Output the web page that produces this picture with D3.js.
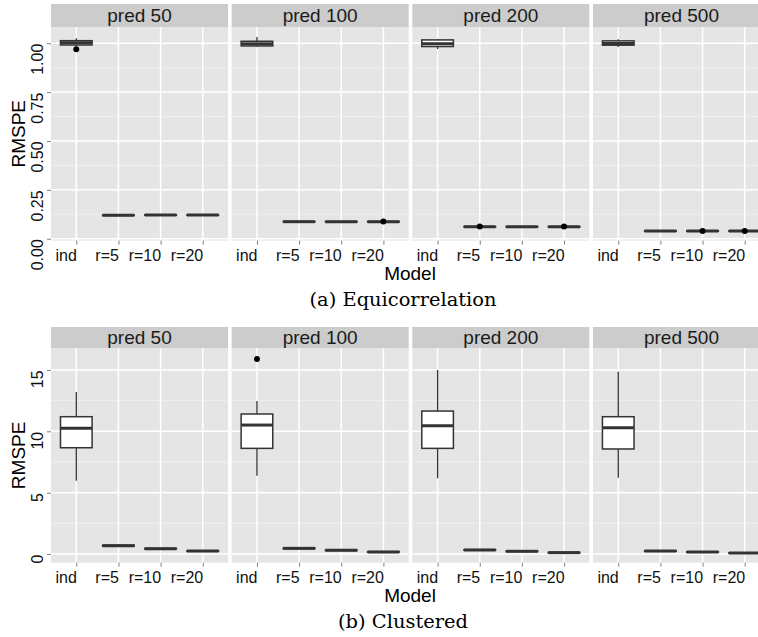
<!DOCTYPE html>
<html>
<head>
<meta charset="utf-8">
<script src="https://cdn.jsdelivr.net/npm/d3@7"></script>
<style>
  body { margin: 0; background: #fff; }
  text { font-family: "Liberation Sans", Arial, sans-serif; }
  .caption { font-family: "DejaVu Serif", "Liberation Serif", serif; }
</style>
</head>
<body>
<div id="chart"></div>
<script>
// categories
var models = ["ind", "r=5", "r=10", "r=20"];
var panels = ["pred 50", "pred 100", "pred 200", "pred 500"];

// Equicorrelation: [lower whisker, q1, median, q3, upper whisker] per panel / model
var equiStats = [
   [[0.985, 0.991, 1.003, 1.013, 1.026], [0.117, 0.119, 0.120, 0.121, 0.123], [0.118, 0.120, 0.121, 0.122, 0.124], [0.118, 0.120, 0.121, 0.122, 0.124]],
   [[0.982, 0.986, 0.997, 1.010, 1.032], [0.085, 0.086, 0.087, 0.088, 0.089], [0.085, 0.086, 0.087, 0.088, 0.089], [0.085, 0.086, 0.087, 0.088, 0.089]],
   [[0.970, 0.983, 0.997, 1.017, 1.022], [0.059, 0.060, 0.061, 0.062, 0.063], [0.059, 0.060, 0.061, 0.062, 0.063], [0.059, 0.060, 0.061, 0.062, 0.063]],
   [[0.981, 0.990, 0.999, 1.012, 1.020], [0.037, 0.038, 0.039, 0.040, 0.041], [0.037, 0.038, 0.039, 0.040, 0.041], [0.037, 0.038, 0.039, 0.040, 0.041]]
];
var equiOutliers = [
   [[0.969], [], [], []],
   [[], [], [], [0.088]],
   [[], [0.062], [], [0.062]],
   [[], [], [0.039], [0.039]]
];

// Clustered
var clusStats = [
   [[5.97, 8.66, 10.24, 11.19, 13.20], [0.60, 0.64, 0.68, 0.72, 0.76], [0.38, 0.41, 0.43, 0.46, 0.49], [0.20, 0.22, 0.24, 0.26, 0.28]],
   [[6.38, 8.61, 10.51, 11.41, 12.47], [0.40, 0.43, 0.46, 0.49, 0.52], [0.25, 0.28, 0.30, 0.32, 0.35], [0.12, 0.15, 0.17, 0.19, 0.22]],
   [[6.17, 8.61, 10.46, 11.65, 15.00], [0.28, 0.31, 0.33, 0.35, 0.38], [0.17, 0.20, 0.22, 0.24, 0.27], [0.06, 0.09, 0.11, 0.13, 0.16]],
   [[6.22, 8.56, 10.29, 11.19, 14.86], [0.19, 0.22, 0.24, 0.26, 0.29], [0.11, 0.14, 0.16, 0.18, 0.21], [0.03, 0.06, 0.08, 0.10, 0.13]]
];
var clusOutliers = [
   [[], [], [], []],
   [[15.89], [], [], []],
   [[], [], [], []],
   [[], [], [], []]
];

// tick labels
var equiTicks = [0, 0.25, 0.5, 0.75, 1];
var equiTickLabels = ["0.00", "0.25", "0.50", "0.75", "1.00"];
var clusTicks = [0, 5, 10, 15];
var clusTickLabels = ["0", "5", "10", "15"];

var svg = d3.select("#chart").append("svg")
   .attr("width", 758)
   .attr("height", 637);

svg.append("rect").attr("width", 758).attr("height", 637).attr("fill", "#fff");

var panelScale = d3.scaleBand()
   .domain(panels)
   .range([51, 770])
   .paddingInner(0.02);

function drawFigure(cfg) {
   var g = svg.append("g");
   var y = d3.scaleLinear().domain(cfg.domain).range([cfg.bottom, cfg.top]);
   var minor = [];
   for (var i = 0; i < cfg.ticks.length - 1; i++) {
      minor.push((cfg.ticks[i] + cfg.ticks[i + 1]) / 2);
   }
   minor.push(cfg.ticks[cfg.ticks.length - 1] + (cfg.ticks[1] - cfg.ticks[0]) / 2);

   panels.forEach(function (p, pi) {
      var x0 = panelScale(p);
      var bw = panelScale.bandwidth();
      var x = d3.scalePoint().domain(models).range([x0, x0 + bw]).padding(0.6);
      var pg = g.append("g");

      // strip
      pg.append("rect")
         .attr("x", x0).attr("y", cfg.stripTop)
         .attr("width", bw).attr("height", cfg.top - cfg.stripTop)
         .attr("fill", "#cccccc");
      pg.append("text")
         .attr("x", x0 + bw / 2)
         .attr("y", (cfg.stripTop + cfg.top) / 2)
         .attr("dy", "0.36em")
         .attr("text-anchor", "middle")
         .attr("font-size", 19)
         .attr("fill", "#1a1a1a")
         .text(p);

      // panel background
      pg.append("rect")
         .attr("x", x0).attr("y", cfg.top)
         .attr("width", bw).attr("height", cfg.bottom - cfg.top)
         .attr("fill", "#e5e5e5");

      // minor grid
      pg.selectAll(".minor")
         .data(minor.filter(function (v) { return y(v) > cfg.top && y(v) < cfg.bottom; }))
         .enter().append("line")
         .attr("x1", x0).attr("x2", x0 + bw)
         .attr("y1", function (d) { return y(d); })
         .attr("y2", function (d) { return y(d); })
         .attr("stroke", "#f2f2f2").attr("stroke-width", 0.8);

      // major grid
      pg.selectAll(".major")
         .data(cfg.ticks)
         .enter().append("line")
         .attr("x1", x0).attr("x2", x0 + bw)
         .attr("y1", function (d) { return y(d); })
         .attr("y2", function (d) { return y(d); })
         .attr("stroke", "#fff").attr("stroke-width", 1.5);
      pg.selectAll(".vgrid")
         .data(models)
         .enter().append("line")
         .attr("x1", function (d) { return x(d); })
         .attr("x2", function (d) { return x(d); })
         .attr("y1", cfg.top).attr("y2", cfg.bottom)
         .attr("stroke", "#fff").attr("stroke-width", 1.5);

      // x axis, labels right-aligned to the ticks
      var xAxis = pg.append("g")
         .attr("transform", `translate(0, ${cfg.bottom})`)
         .call(d3.axisBottom(x).tickSize(4).tickPadding(5));
      xAxis.select(".domain").remove();
      xAxis.selectAll("line").attr("stroke", "#7f7f7f");
      xAxis.selectAll("text")
         .attr("font-size", 16)
         .attr("font-family", "Liberation Sans, Arial, sans-serif")
         .attr("fill", "#111")
         .attr("text-anchor", "end");

      // boxes
      var half = x.step() * 0.75 / 2;
      var stats = cfg.stats[pi];
      models.forEach(function (m, mi) {
         var s = stats[mi];
         var cx = x(m);
         var bg = pg.append("g");
         bg.append("line")
            .attr("x1", cx).attr("x2", cx)
            .attr("y1", y(s[0])).attr("y2", y(s[4]))
            .attr("stroke", "#333").attr("stroke-width", 1.3);
         bg.append("rect")
            .attr("x", cx - half).attr("width", half * 2)
            .attr("y", y(s[3])).attr("height", Math.max(0.01, y(s[1]) - y(s[3])))
            .attr("fill", "#fff").attr("stroke", "#333").attr("stroke-width", 1.5);
         bg.append("line")
            .attr("x1", cx - half).attr("x2", cx + half)
            .attr("y1", y(s[2])).attr("y2", y(s[2]))
            .attr("stroke", "#333").attr("stroke-width", 3);
         bg.selectAll("circle")
            .data(cfg.outliers[pi][mi])
            .enter().append("circle")
            .attr("cx", cx)
            .attr("cy", function (d) { return y(d); })
            .attr("r", 3)
            .attr("fill", "#000");
      });
   });

   // y axis (left of first panel), rotated labels ending at the tick
   var yAxis = g.append("g")
      .attr("transform", `translate(${panelScale(panels[0])}, 0)`)
      .call(d3.axisLeft(y).tickValues(cfg.ticks).tickSize(4).tickFormat(function (d, i) { return cfg.tickLabels[i]; }));
   yAxis.select(".domain").remove();
   yAxis.selectAll("line").attr("stroke", "#7f7f7f");
   yAxis.selectAll("text")
      .attr("font-size", 16)
      .attr("font-family", "Liberation Sans, Arial, sans-serif")
      .attr("fill", "#111")
      .attr("text-anchor", "end")
      .attr("x", 0).attr("dy", 0)
      .attr("transform", "translate(-8, 0) rotate(-90)");

   // axis titles
   g.append("text")
      .attr("transform", `translate(25, ${(cfg.top + cfg.bottom) / 2}) rotate(-90)`)
      .attr("text-anchor", "middle")
      .attr("font-size", 19)
      .attr("fill", "#000")
      .text("RMSPE");
   g.append("text")
      .attr("x", 410)
      .attr("y", cfg.modelY)
      .attr("text-anchor", "middle")
      .attr("font-size", 19)
      .attr("fill", "#000")
      .text("Model");
   var cap = g.append("text")
      .attr("class", "caption")
      .attr("x", 403)
      .attr("y", cfg.captionY)
      .attr("text-anchor", "middle")
      .attr("font-size", 17)
      .attr("fill", "#000")
      .text(cfg.caption);
   // fit caption to the width it takes in the figure
   var len = cap.node().getComputedTextLength();
   if (len > 0) cap.attr("font-size", 17 * cfg.captionWidth / len);
}

drawFigure({
   stripTop: 4, top: 27, bottom: 240.6,
   domain: [-0.0097, 1.083],
   ticks: equiTicks, tickLabels: equiTickLabels,
   stats: equiStats, outliers: equiOutliers,
   modelY: 280, captionY: 306,
   caption: "(a) Equicorrelation", captionWidth: 187
});

drawFigure({
   stripTop: 327, top: 348, bottom: 562.7,
   domain: [-0.71, 16.79],
   ticks: clusTicks, tickLabels: clusTickLabels,
   stats: clusStats, outliers: clusOutliers,
   modelY: 602, captionY: 628,
   caption: "(b) Clustered", captionWidth: 130
});
</script>
</body>
</html>
